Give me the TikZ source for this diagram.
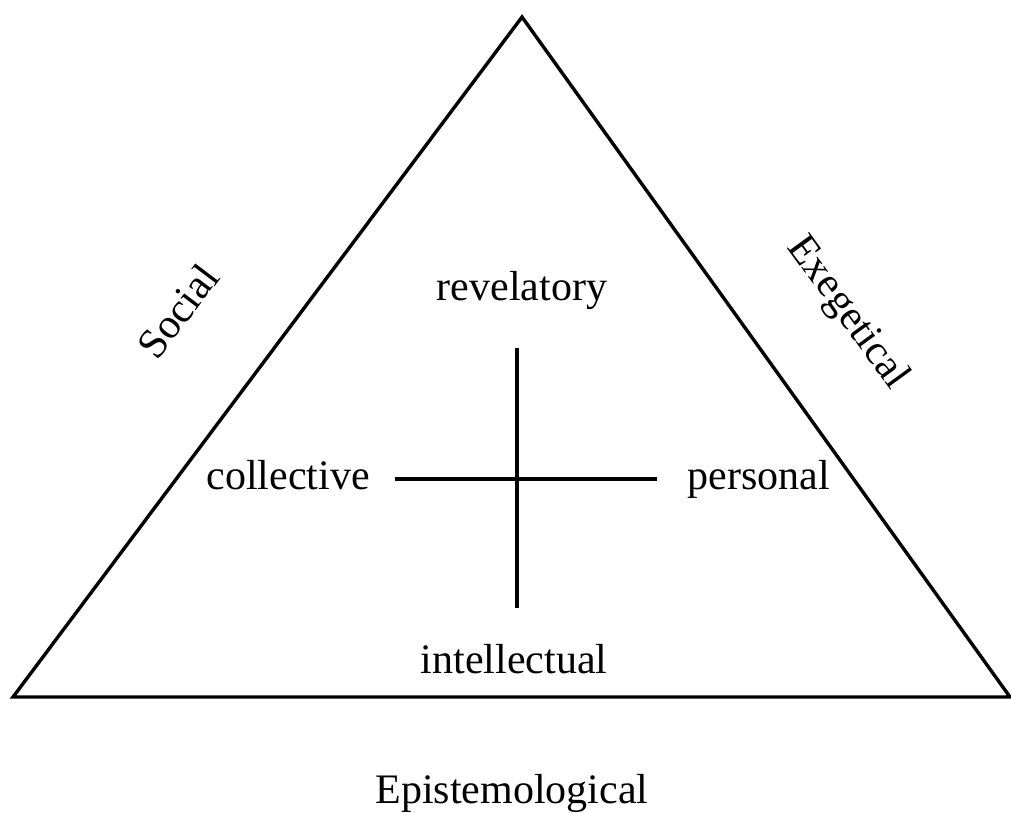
\documentclass[tikz,border=0pt]{standalone}
\usepackage{fontspec}
\setmainfont{Liberation Serif}
\begin{document}
\begin{tikzpicture}[x=1pt,y=-1pt,
  edge/.style={line width=3.4pt,line join=miter,black},
  bar/.style={line width=3.4pt,black},
  lbl/.style={inner sep=0pt,anchor=base,font=\fontsize{42}{48}\selectfont},
  side/.style={inner sep=0pt,font=\fontsize{42}{48}\selectfont}]
\useasboundingbox (0,0) rectangle (1011,812);
% triangle corners
\coordinate (top) at (522,17);
\coordinate (bl) at (13,697);
\coordinate (br) at (1010,697);
\draw[edge] (top) -- (bl) -- (br) -- cycle;
% cross in the middle
\coordinate (vt) at (517,348);
\coordinate (vb) at (517,608);
\coordinate (hl) at (395,479);
\coordinate (hr) at (657,479);
\draw[bar] (vt) -- (vb);
\draw[bar] (hl) -- (hr);
% axis labels
\node[lbl] (rev) at (522,300) {revelatory};
\node[lbl] (col) at (288,489) {collective};
\node[lbl] (per) at (759,489) {personal};
\node[lbl] (int) at (514,673) {intellectual};
% side labels
\node[side,rotate=53] (soc) at (178,311) {Social};
\node[side,rotate=-54] (exe) at (847,313) {Exegetical};
\node[lbl] (epi) at (512,803) {Epistemological};
\end{tikzpicture}
\end{document}
